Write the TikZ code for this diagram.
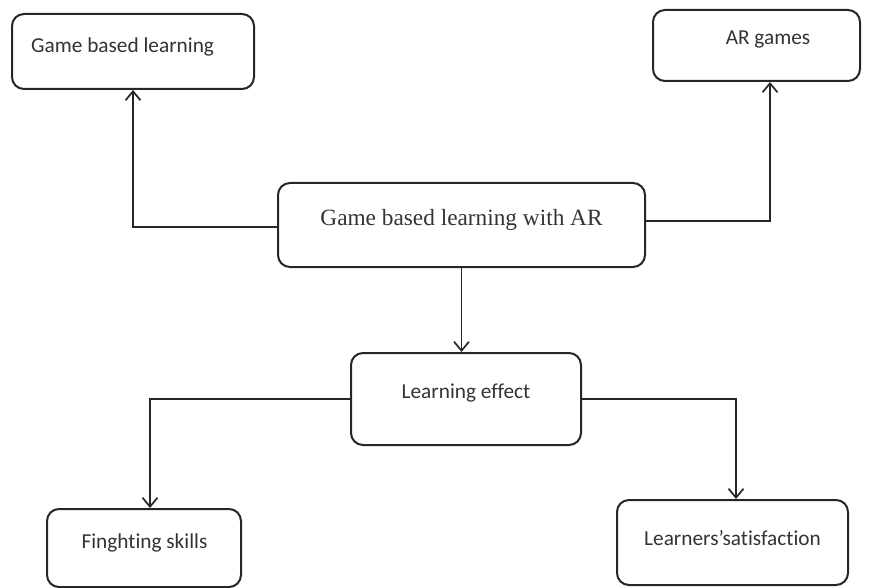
\documentclass[tikz,border=0pt]{standalone}
\usepackage{fontspec}
\setmainfont{Carlito}[Ligatures=NoCommon]
\newfontfamily\serifcenter{Liberation Serif}
\usetikzlibrary{arrows.meta}
\begin{document}
\begin{tikzpicture}[x=1pt,y=-1pt,
  box/.style={draw=black!85, line width=2pt, rounded corners=12pt, inner sep=0pt},
  lbl/.style={inner sep=0pt, text=black!80, font=\fontsize{21.3}{25}\selectfont},
  conn/.style={draw=black!85, line width=1.7pt, -{Straight Barb[length=9pt,width=15pt,line width=1.7pt]}}]
\useasboundingbox (0,0) rectangle (872,588);
% boxes
\node[box, minimum width=242pt, minimum height=75pt] (gbl) at (133,51.5) {};
\node[box, minimum width=207pt, minimum height=71pt] (arg) at (756.5,45.5) {};
\node[box, minimum width=367pt, minimum height=84pt] (ctr) at (461.5,225) {};
\node[box, minimum width=230pt, minimum height=92pt] (le) at (466,399) {};
\node[box, minimum width=194pt, minimum height=78pt] (fs) at (144,548) {};
\node[box, minimum width=231pt, minimum height=85pt] (ls) at (732.5,542.5) {};
% labels
\node[lbl, anchor=base west] (gblt) at (31,53) {Game based learning};
\node[lbl, anchor=base] (argt) at (768,45) {AR games};
\node[lbl, anchor=base, font=\serifcenter\fontsize{23.3}{27}\selectfont] (ctrt) at (461.5,225) {Game based learning with AR};
\node[lbl, anchor=base] (let) at (466,398) {Learning effect};
\node[lbl, anchor=base] (fst) at (144.5,548) {Finghting skills};
\node[lbl, anchor=base] (lst) at (732.5,545) {Learners’satisfaction};
% connectors
\draw[conn] ([yshift=-2pt]ctr.west) -| (gbl.south);
\draw[conn] ([yshift=4pt]ctr.east) -| ([xshift=13.5pt]arg.south);
\draw[conn] (ctr.south) -- (ctr.south |- le.north);
\draw[conn] (le.west) -| ([xshift=6pt]fs.north);
\draw[conn] (le.east) -| ([xshift=3.5pt]ls.north);
\end{tikzpicture}
\end{document}
